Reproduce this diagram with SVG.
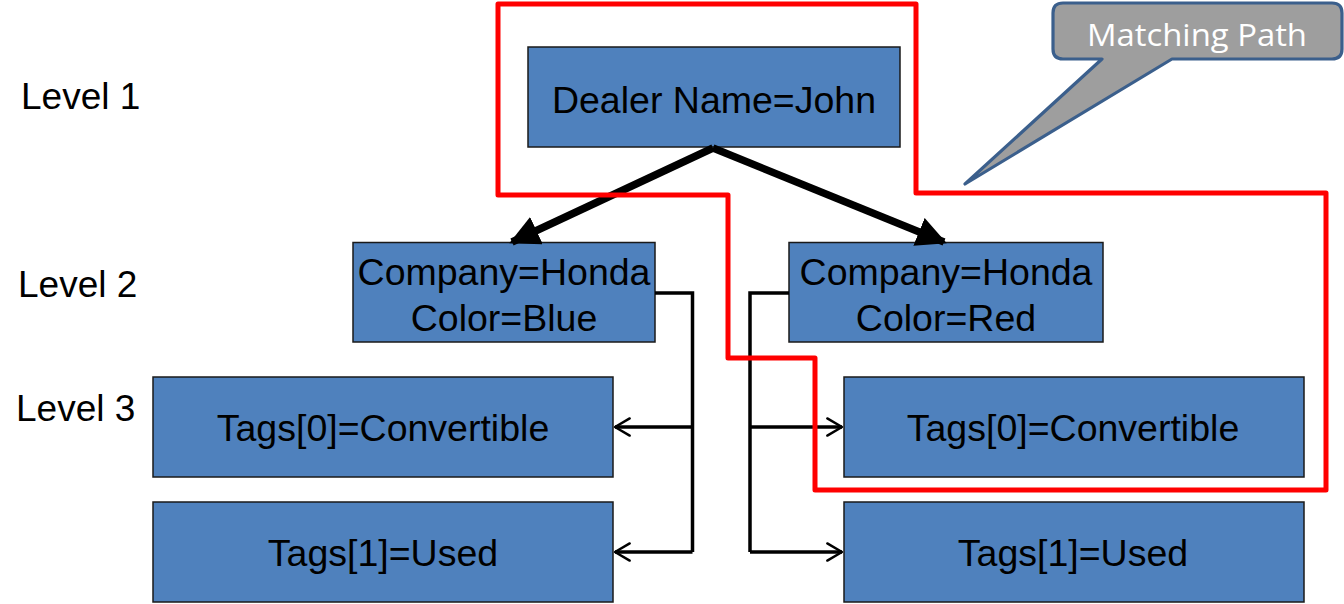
<svg xmlns="http://www.w3.org/2000/svg" width="1344" height="604" viewBox="0 0 1344 604">
<style>
.node{fill:#4F81BD;stroke:#1a1a1a;stroke-width:1.5}
.t{font-family:"Liberation Sans",Arial,sans-serif;font-size:37.5px;fill:#000;text-anchor:middle}
.lvl{font-family:"Liberation Sans",Arial,sans-serif;font-size:37px;fill:#000}
.thick{stroke:#000;stroke-width:7.5;fill:none}
.thin{stroke:#000;stroke-width:3.5;fill:none}
</style>
<defs>
<marker id="tri" viewBox="0 0 10 10" refX="9" refY="5" markerWidth="4" markerHeight="4" orient="auto" markerUnits="strokeWidth">
<path d="M0,0 L10,5 L0,10 z" fill="#000"/>
</marker>
<marker id="open" viewBox="0 0 10 10" refX="9" refY="5" markerWidth="7" markerHeight="7" orient="auto" markerUnits="strokeWidth">
<path d="M3,1.5 L9,5 L3,8.5" fill="none" stroke="#000" stroke-width="1" stroke-linecap="round" stroke-linejoin="round"/>
</marker>
</defs>
<rect width="1344" height="604" fill="#fff"/>

<g id="labels">
<text class="lvl" x="21" y="109">Level 1</text>
<text class="lvl" x="18" y="297">Level 2</text>
<text class="lvl" x="16" y="421">Level 3</text>
</g>

<g id="dealer"><rect class="node" x="528" y="47" width="372" height="100"/><text class="t" x="714" y="113">Dealer Name=John</text></g>
<g id="car1"><rect class="node" x="353" y="242.5" width="302" height="99.5"/><text class="t" x="504" y="285">Company=Honda</text><text class="t" x="504" y="331">Color=Blue</text></g>
<g id="car2"><rect class="node" x="789" y="242.5" width="314" height="99.5"/><text class="t" x="946" y="285">Company=Honda</text><text class="t" x="946" y="331">Color=Red</text></g>
<g id="car1tag0"><rect class="node" x="153" y="377" width="460" height="100"/><text class="t" x="383" y="441">Tags[0]=Convertible</text></g>
<g id="car1tag1"><rect class="node" x="153" y="502" width="460" height="100"/><text class="t" x="383" y="566">Tags[1]=Used</text></g>
<g id="car2tag0"><rect class="node" x="844" y="377" width="460" height="100"/><text class="t" x="1073" y="441">Tags[0]=Convertible</text></g>
<g id="car2tag1"><rect class="node" x="844" y="502" width="460" height="100"/><text class="t" x="1073" y="566">Tags[1]=Used</text></g>

<g id="connectors">
<line class="thick" x1="713" y1="148" x2="512" y2="242" marker-end="url(#tri)"/>
<line class="thick" x1="713" y1="148" x2="944" y2="242" marker-end="url(#tri)"/>
<polyline class="thin" points="655,293 692.5,293 692.5,552"/>
<line class="thin" x1="692.5" y1="427" x2="615" y2="427" marker-end="url(#open)"/>
<line class="thin" x1="692.5" y1="552" x2="615" y2="552" marker-end="url(#open)"/>
<polyline class="thin" points="789,293 750,293 750,552"/>
<line class="thin" x1="750" y1="427" x2="842" y2="427" marker-end="url(#open)"/>
<line class="thin" x1="750" y1="552" x2="842" y2="552" marker-end="url(#open)"/>
</g>

<g id="matching-path">
<polygon points="498,4 916,4 916,193 1326,193 1326,490 815,490 815,358 728,358 728,195 498,195" fill="none" stroke="#FF0000" stroke-width="5" stroke-linejoin="round"/>
</g>

<g id="callout">
<path d="M1063,3 L1332,3 Q1342,3 1342,13 L1342,49 Q1342,59 1332,59 L1172,59 L965,184 L1102,59 L1063,59 Q1053,59 1053,49 L1053,13 Q1053,3 1063,3 Z" fill="#9E9E9E" stroke="#3B5F8C" stroke-width="3.2" stroke-linejoin="round"/>
<text x="1197" y="46" font-family="'Open Sans',Lato,sans-serif" font-size="31" fill="#fff" text-anchor="middle" textLength="220" lengthAdjust="spacingAndGlyphs">Matching Path</text>
</g>
</svg>
